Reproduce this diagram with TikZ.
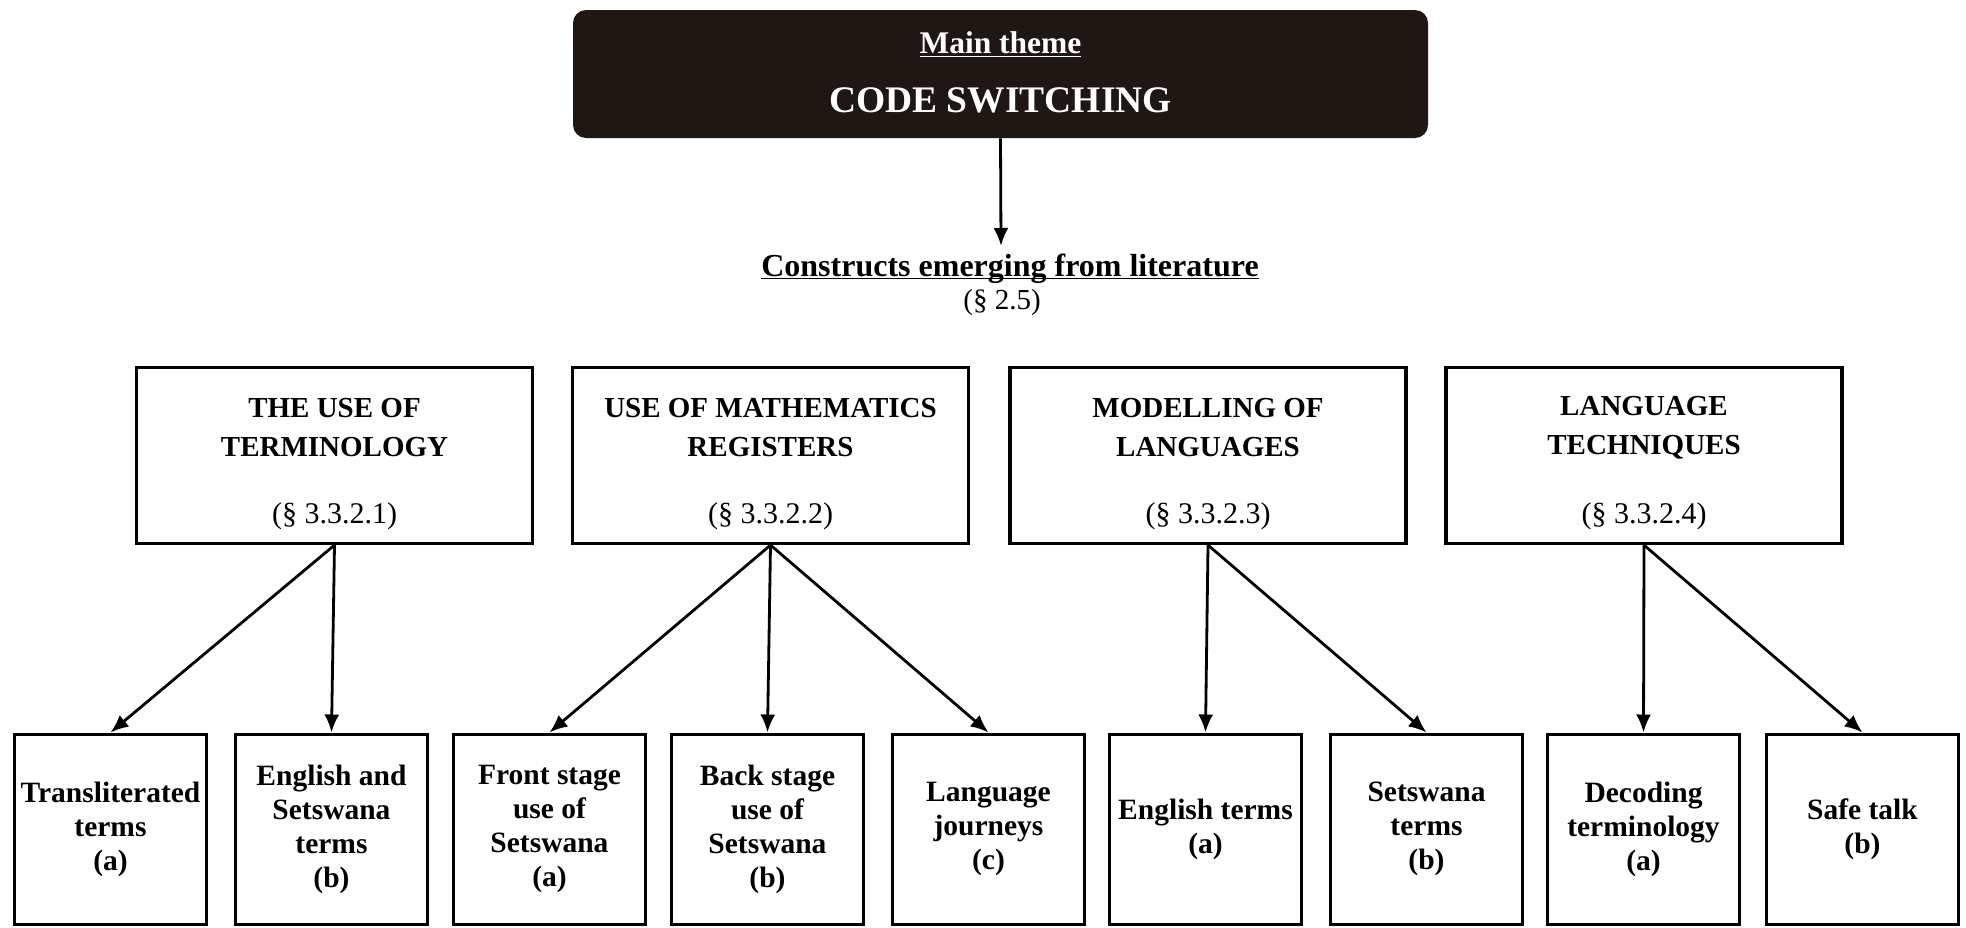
\documentclass[tikz,border=0pt]{standalone}
\usepackage{fontspec}
\setmainfont{Liberation Serif}
\usetikzlibrary{arrows.meta,positioning}
\definecolor{themedark}{HTML}{1F1714}

\begin{document}
\begin{tikzpicture}[
    x=0.5pt, y=-0.5pt,
    themebox/.style={fill=themedark, rounded corners=6.5pt, minimum width=427.5pt, minimum height=64pt, inner sep=0pt},
    themetext/.style={text=white, font=\bfseries, inner sep=0pt},
    midbox/.style={draw, line width=1.6pt, minimum width=198pt, minimum height=88pt, inner sep=0pt},
    midtitle/.style={align=center, inner sep=0pt, font=\fontsize{14.5}{19.5}\selectfont\bfseries},
    midref/.style={inner sep=0pt, font=\fontsize{15}{18}\selectfont},
    leafbox/.style={draw, line width=1.5pt, minimum width=96pt, minimum height=95pt, inner sep=0pt, align=center, font=\fontsize{14.75}{17}\selectfont\bfseries},
    link/.style={-{Latex[length=9pt,width=7.5pt]}, line width=1.4pt}
  ]
  \useasboundingbox (0,0) rectangle (1966,927);

  % Main theme
  \node[themebox] (theme) at (1000.5,74) {};
  \node[themetext, font=\fontsize{15.75}{18}\selectfont\bfseries] (themeT) at (1000.5,45) {\underline{Main theme}};
  \node[themetext, font=\fontsize{18.75}{22}\selectfont\bfseries] (themeN) at (1000.5,100) {CODE SWITCHING};

  % Constructs
  \coordinate (consTop) at (1001,246);
  \node[inner sep=0pt, font=\fontsize{16}{19}\selectfont\bfseries] (cons) at (1010,278) {\underline{\smash{Constructs emerging from literature}}};
  \node[midref, font=\fontsize{14.5}{17}\selectfont] (consR) at (1002,303) {(\S\ 2.5)};

  % Constructs boxes
  \node[midbox] (term) at (334.5,455.5) {};
  \node[midtitle] (termT) at (334.5,427.5) {THE USE OF\\TERMINOLOGY};
  \node[midref] (termR) at (334.5,516) {(\S\ 3.3.2.1)};

  \node[midbox] (reg) at (770.5,455.5) {};
  \node[midtitle] (regT) at (770.5,427.5) {USE OF MATHEMATICS\\REGISTERS};
  \node[midref] (regR) at (770.5,516) {(\S\ 3.3.2.2)};

  \node[midbox] (model) at (1208,455.5) {};
  \node[midtitle] (modelT) at (1208,427.5) {MODELLING OF\\LANGUAGES};
  \node[midref] (modelR) at (1208,516) {(\S\ 3.3.2.3)};

  \node[midbox] (tech) at (1644,455.5) {};
  \node[midtitle] (techT) at (1644,427.5) {LANGUAGE\\TECHNIQUES};
  \node[midref] (techR) at (1644,516) {(\S\ 3.3.2.4)};

  % Leaves
  \node[leafbox] (translit) at (110.5,829) {Transliterated\\terms\\(a)};
  \node[leafbox] (engset) at (331.5,829) {English and\\Setswana\\terms\\(b)};
  \node[leafbox] (front) at (549.5,829) {Front stage\\use of\\Setswana\\(a)};
  \node[leafbox] (back) at (767.5,829) {Back stage\\use of\\Setswana\\(b)};
  \node[leafbox] (journey) at (988.5,829) {Language\\journeys\\(c)};
  \node[leafbox] (engterm) at (1205.5,829) {English terms\\(a)};
  \node[leafbox] (setterm) at (1426.5,829) {Setswana\\terms\\(b)};
  \node[leafbox] (decode) at (1643.5,829) {Decoding\\terminology\\(a)};
  \node[leafbox] (safe) at (1862.5,829) {Safe talk\\(b)};

  % Edges
  \draw[link] (theme.south) -- (consTop);
  \draw[link] (term.south) -- (translit.north);
  \draw[link] (term.south) -- (engset.north);
  \draw[link] (reg.south) -- (front.north);
  \draw[link] (reg.south) -- (back.north);
  \draw[link] (reg.south) -- (journey.north);
  \draw[link] (model.south) -- (engterm.north);
  \draw[link] (model.south) -- (setterm.north);
  \draw[link] (tech.south) -- (decode.north);
  \draw[link] (tech.south) -- (safe.north);
\end{tikzpicture}
\end{document}
